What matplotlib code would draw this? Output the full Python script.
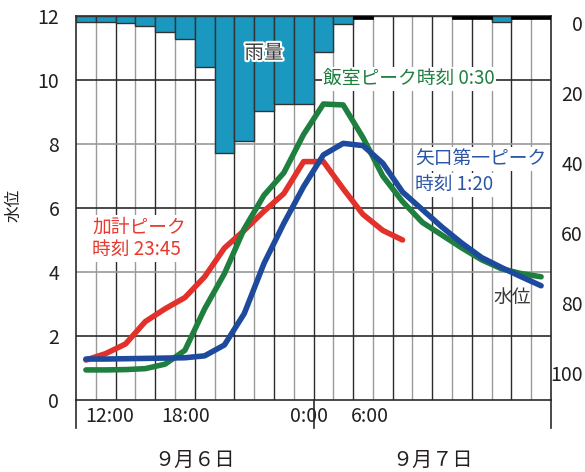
import numpy as np
import matplotlib
matplotlib.use('Agg')
import matplotlib.pyplot as plt
import matplotlib.patheffects as pe
from matplotlib.transforms import ScaledTranslation

plt.rcParams['font.family'] = ['Noto Sans CJK JP', 'DejaVu Sans']

# x axis: hours since 12:00 on 9/6 (0) .. 12:00 on 9/7 (24)
hours = np.arange(24)

# hourly rain (mm), right axis, drawn downward from the top
rain = [1.6, 1.6, 2.1, 2.9, 4.7, 6.6, 14.5, 39.2, 35.7, 27.1, 25.2, 25.2,
        10.2, 2.4, 0, 0, 0, 0, 0, 0, 0, 1.6, 0, 0]
rain_trace = [14, 19, 20, 22, 23]   # hours with only a trace of rain

# water levels (m), hourly, taken at the middle of each hour
kake = [1.25, 1.45, 1.75, 2.45, 2.85, 3.2, 3.85, 4.75, 5.3, 5.9, 6.45,
        7.45, 7.45, 6.6, 5.8, 5.3, 5.0]
iimuro = [0.94, 0.94, 0.95, 0.98, 1.12, 1.55, 2.85, 3.95, 5.35, 6.4, 7.1,
          8.3, 9.25, 9.22, 8.2, 7.0, 6.2, 5.55, 5.15, 4.75, 4.38, 4.1,
          3.95, 3.85]
yaguchi = [1.28, 1.28, 1.29, 1.3, 1.31, 1.32, 1.38, 1.72, 2.7, 4.27, 5.52,
           6.67, 7.66, 8.02, 7.95, 7.4, 6.5, 5.95, 5.4, 4.9, 4.45, 4.14,
           3.85, 3.57]

level_ticks = [0, 2, 4, 6, 8, 10, 12]
rain_ticks = [0, 20, 40, 60, 80, 100]
time_labels = ['12:00', '18:00', '0:00', '6:00']
time_label_pos = [1.72, 5.56, 11.75, 14.86]
date_labels = ['９月６日', '９月７日']
date_label_pos = [6, 18]

c_red = '#e2302a'
c_green = '#1f7f3e'
c_blue = '#1d4a9c'
c_bar = '#1b98bf'
c_text = '#231f20'

fig = plt.figure(figsize=(5.85, 4.72), dpi=100)
ax = fig.add_axes([76/585, 1-400/472, 475/585, 384/472])
ax.set_xlim(0, 24)
ax.set_ylim(0, 12)

# grid
for h in range(1, 24):
    ax.axvline(h, color='#2b2b2b' if h % 2 == 0 else '#9a9a9a', lw=1.0, zorder=0)
for v in [2, 4, 6, 8, 10]:
    ax.axhline(v, color='#9a9a9a' if v % 4 == 0 else '#2b2b2b', lw=1.2, zorder=0)

ax.set_yticks(level_ticks)
ax.set_xticks([])
ax.tick_params(axis='y', length=0, pad=12, labelsize=14, labelcolor=c_text)
ax.set_ylabel('水位', fontsize=12, color=c_text)
ax.yaxis.set_label_coords(-62/475, 195/384)
ax.yaxis.label.set_va('center')
for s in ax.spines.values():
    s.set_color('#2b2b2b')
    s.set_linewidth(1.2)

# rain on the right axis
ax2 = ax.twinx()
ax2.bar(hours + 0.5, rain, width=1.0, color=c_bar, edgecolor='#333333', lw=1.0, zorder=2)
ax2.bar([h + 0.5 for h in rain_trace], [0.9] * len(rain_trace), width=1.0,
        color='black', edgecolor='black', lw=0.5, zorder=2)
ax2.set_yticks(rain_ticks)
ax2.tick_params(axis='y', length=0, pad=23, labelsize=14, labelcolor=c_text)
offset = ScaledTranslation(0, -0.07, fig.dpi_scale_trans)
for lab in ax2.get_yticklabels():
    lab.set_ha('right')
    lab.set_transform(lab.get_transform() + offset)
for s in ax2.spines.values():
    s.set_visible(False)

# water level lines (level units) drawn above the bars
tr = ax.transData
ax2.plot(hours[:len(kake)] + 0.5, kake, color=c_red, lw=4, transform=tr,
         solid_capstyle='round', solid_joinstyle='round', zorder=5)
ax2.plot(hours + 0.5, iimuro, color=c_green, lw=4, transform=tr,
         solid_capstyle='round', solid_joinstyle='round', zorder=5)
ax2.plot(hours + 0.5, yaguchi, color=c_blue, lw=4, transform=tr,
         solid_capstyle='round', solid_joinstyle='round', zorder=6)
ax2.set_ylim(384/3.5, 0)
ax2.set_xlim(0, 24)

# annotations
box = dict(facecolor='white', edgecolor='none', pad=1.0)
ax2.text(12.48, 10.03, '飯室ピーク時刻 0:30', color=c_green, fontsize=13.5,
         ha='left', va='center', transform=tr, bbox=box, zorder=7)
ax2.text(17.13, 7.53, '矢口第一ピーク', color='#2a55a5', fontsize=13.5,
         ha='left', va='center', transform=tr, bbox=box, zorder=7)
ax2.text(17.13, 6.72, '時刻 1:20', color='#2a55a5', fontsize=13.5,
         ha='left', va='center', transform=tr, bbox=box, zorder=7)
ax2.text(0.81, 5.41, '加計ピーク', color='#e8392c', fontsize=13.5,
         ha='left', va='center', transform=tr, bbox=box, zorder=7)
ax2.text(0.81, 4.69, '時刻 23:45', color='#e8392c', fontsize=13.5,
         ha='left', va='center', transform=tr, bbox=box, zorder=7)
ax2.text(9.5, 10.84, '雨量', color='#3a3a3a', fontsize=14, ha='center', va='center',
         transform=tr, zorder=7,
         path_effects=[pe.withStroke(linewidth=3, foreground='white')])
ax2.text(21.07, 3.19, '水位', color='#3a3a3a', fontsize=13.5, ha='left', va='center',
         transform=tr, zorder=7)

# time band below the axis
xt = ax.get_xaxis_transform()
for h in [0, 12, 24]:
    ax.plot([h, h], [0, -28/384], color='#2b2b2b', lw=1.2, transform=xt, clip_on=False)
for p, t in zip(time_label_pos, time_labels):
    ax.text(p, -17/384, t, fontsize=14, color=c_text, ha='center', va='center', transform=xt)
for p, t in zip(date_label_pos, date_labels):
    ax.text(p, -60/384, t, fontsize=14.5, color=c_text, ha='center', va='center', transform=xt)

fig.savefig('out.png', dpi=100)
